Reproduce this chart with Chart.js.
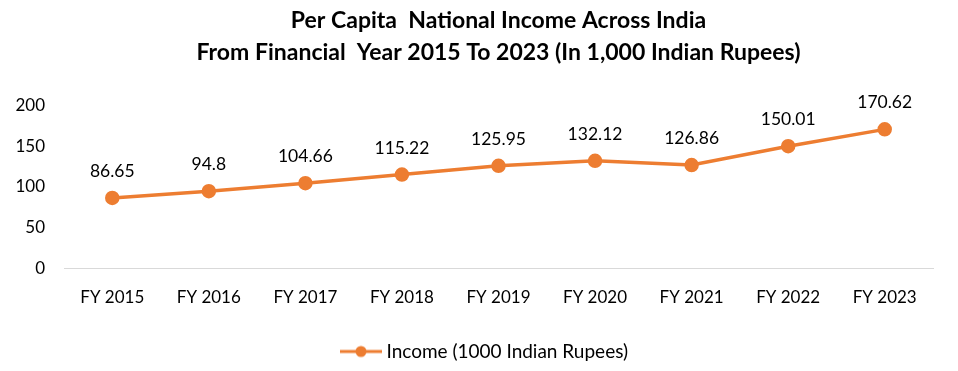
<!DOCTYPE html>
<html><head><meta charset="utf-8">
<script src="https://cdn.jsdelivr.net/npm/chart.js@4"></script>
<style>html,body{margin:0;padding:0;background:#fff}#wrap{width:958px;height:371px}</style>
</head><body><div id="wrap"><canvas id="c" width="958" height="371"></canvas></div>
<script>
const categories = ["FY 2015","FY 2016","FY 2017","FY 2018","FY 2019","FY 2020","FY 2021","FY 2022","FY 2023"];
const incomeValues = [86.65, 94.8, 104.66, 115.22, 125.95, 132.12, 126.86, 150.01, 170.62];
const yTicks = [0, 50, 100, 150, 200];
const seriesName = "Income (1000 Indian Rupees)";
const titleLines = ["Per Capita  National Income Across India", "From Financial  Year 2015 To 2023 (In 1,000 Indian Rupees)"];

const ORANGE = '#ED7D31';
const FONT = 'Lato, "Open Sans", sans-serif';

const legendIcon = document.createElement('canvas');
legendIcon.width = 52; legendIcon.height = 14;
(function(){const g=legendIcon.getContext('2d');g.strokeStyle=ORANGE;g.lineWidth=3;g.lineCap='butt';
g.beginPath();g.moveTo(10,7);g.lineTo(52,7);g.stroke();g.fillStyle=ORANGE;g.beginPath();g.arc(31,7,5.5,0,Math.PI*2);g.fill();})();

const labelPlugin = {
  id:'valueLabels',
  afterDatasetsDraw(chart){
    const ctx=chart.ctx; const meta=chart.getDatasetMeta(0);
    ctx.save(); ctx.font='17.5px '+FONT; ctx.fillStyle='#000'; ctx.textAlign='center'; ctx.textBaseline='alphabetic';
    meta.data.forEach((p,i)=>{ ctx.fillText(String(incomeValues[i]), p.x, p.y-21); });
    ctx.restore();
  }
};

const chart = new Chart(document.getElementById('c'), {
  type:'line',
  data:{labels:categories, datasets:[{label:seriesName,data:incomeValues,borderColor:ORANGE,backgroundColor:ORANGE,
    borderWidth:3.5,pointRadius:5.5,pointHoverRadius:5.5,pointBackgroundColor:ORANGE,pointBorderColor:ORANGE,tension:0}]},
  options:{
    responsive:false, animation:false,
    layout:{padding:{left:0,right:25,top:4,bottom:0}},
    plugins:{
      title:{display:true,text:titleLines,color:'#000',font:{family:FONT,size:23,weight:'bold',lineHeight:1.4},padding:{top:0,bottom:37}},
      legend:{position:'bottom',labels:{color:'#000',font:{family:FONT,size:19},boxWidth:42,pointStyleWidth:42,padding:10,
        generateLabels(chart){return [{text:seriesName,pointStyle:legendIcon,fillStyle:ORANGE,strokeStyle:ORANGE,lineWidth:0,datasetIndex:0,fontColor:'#000'}];},
        usePointStyle:true}},
      tooltip:{enabled:false}
    },
    scales:{
      x:{offset:true,grid:{display:false,drawTicks:false},border:{display:true,color:'#d9d9d9',width:1},
        afterFit(ax){ax.height+=5;},
        ticks:{color:'#000',font:{family:FONT,size:17},padding:19,maxRotation:0}},
      y:{min:0,max:200,grid:{display:false,drawTicks:false},border:{display:false},
        afterBuildTicks(ax){ax.ticks=yTicks.map(v=>({value:v}));},
        afterFit(ax){ax.width=64;},
        ticks:{color:'#000',font:{family:FONT,size:17},padding:19}}
    }
  },
  plugins:[labelPlugin]
});
function shiftDraw(box, dx){
  const orig = box.draw;
  box.draw = function(){ const c=this.ctx||chart.ctx; c.save(); c.translate(dx,0); orig.apply(this, arguments); c.restore(); };
}
shiftDraw(chart.titleBlock, 32);
shiftDraw(chart.legend, 15);
chart.update();
</script></body></html>
